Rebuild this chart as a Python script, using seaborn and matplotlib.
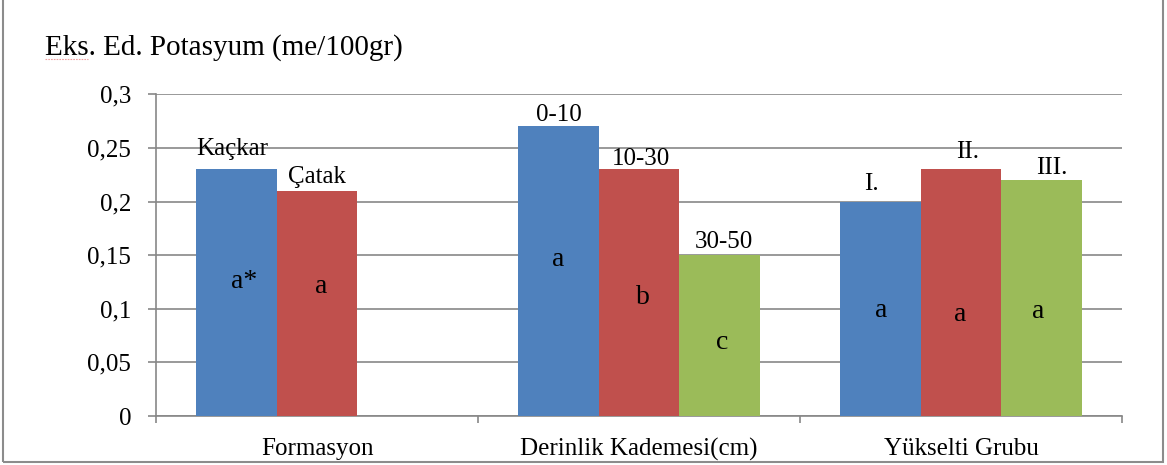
import matplotlib
matplotlib.use("Agg")
import matplotlib.pyplot as plt
from matplotlib.patches import Rectangle
from matplotlib.lines import Line2D
import seaborn as sns
import pandas as pd

# ---- data -------------------------------------------------------------
groups = ["Formasyon", "Derinlik Kademesi(cm)", "Yükselti Grubu"]
group_values = [
    [0.23, 0.21],
    [0.27, 0.23, 0.15],
    [0.20, 0.23, 0.22],
]
bar_names = [
    ["Kaçkar", "Çatak"],
    ["0-10", "10-30", "30-50"],
    ["I.", "II.", "III."],
]
significance = [
    ["a*", "a"],
    ["a", "b", "c"],
    ["a", "a", "a"],
]
y_ticks = [0, 0.05, 0.1, 0.15, 0.2, 0.25, 0.3]
y_tick_labels = ["0", "0,05", "0,1", "0,15", "0,2", "0,25", "0,3"]
y_title = "Eks. Ed. Potasyum (me/100gr)"

# ---- styling / layout ---------------------------------------------------
colors = ["#4F81BD", "#C0504D", "#9BBB59"]
grey = "#878787"
# pixel offsets of the name labels relative to the top centre of each bar
name_shift = [[(-4, 14), (0, 8)],
              [(0, 5), (2, 4), (4, 7)],
              [(-9, 12), (7, 11), (10, 6)]]
# baseline height (data units) and horizontal pixel shift of the letters
letter_y = [[0.1194, 0.115],
            [0.140, 0.1045, 0.0625],
            [0.0926, 0.0889, 0.0914]]
letter_dx = [[8, 4], [0, 4, 3], [1, -1, -3]]

sns.set_style("white")
plt.rcParams["font.family"] = ["Liberation Serif", "DejaVu Serif"]
plt.rcParams["text.color"] = "black"
plt.rcParams["xtick.labelcolor"] = "black"
plt.rcParams["ytick.labelcolor"] = "black"

rows = []
for g, vals in zip(groups, group_values):
    for lvl, v in enumerate(vals):
        rows.append({"group": g, "level": str(lvl + 1), "value": v})
df = pd.DataFrame(rows)

fig = plt.figure(figsize=(11.67, 4.65), dpi=100)
ax = fig.add_axes([156 / 1167, 1 - 416 / 465, (1122 - 156) / 1167, (416 - 94.3) / 465])

sns.barplot(data=df, x="group", y="value", hue="level", order=groups,
            hue_order=["1", "2", "3"], palette=colors, width=0.75,
            gap=0, saturation=1, edgecolor="none", linewidth=0,
            legend=False, ax=ax, zorder=3)

ax.set_xlim(-0.5, 2.5)
ax.set_ylim(0, 0.3)
ax.set_yticks(y_ticks)
ax.set_yticklabels(y_tick_labels, fontsize=18)
ax.set_xticks(range(len(groups)))
ax.set_xticklabels(groups, fontsize=18)
ax.set_xticks([-0.5, 0.5, 1.5, 2.5], minor=True)
ax.set_xlabel("")
ax.set_ylabel("")

ax.tick_params(axis="y", direction="out", length=6, width=1.2, color=grey, pad=12, left=True)
ax.tick_params(axis="x", which="major", length=0, pad=16)
ax.tick_params(axis="x", which="minor", direction="out", length=5, width=1.2, color=grey, bottom=True)

ax.yaxis.grid(True, color=grey, linewidth=1.2, zorder=0)
ax.set_axisbelow(True)
for side in ("top", "right"):
    ax.spines[side].set_visible(False)
for side in ("left", "bottom"):
    ax.spines[side].set_color(grey)
    ax.spines[side].set_linewidth(1.2)

# bar labels: series names above, significance letters inside
for lvl, container in enumerate(ax.containers):
    for bar in container:
        if bar.get_height() != bar.get_height():
            continue
        cx = bar.get_x() + bar.get_width() / 2
        gi = int(round(cx))
        if lvl >= len(group_values[gi]):
            continue
        top = bar.get_height()
        dx, dy = name_shift[gi][lvl]
        ax.annotate(bar_names[gi][lvl], xy=(cx, top), xytext=(dx, dy),
                    textcoords="offset pixels", ha="center", va="baseline",
                    fontsize=18, color="black", zorder=5)
        ax.annotate(significance[gi][lvl], xy=(cx, letter_y[gi][lvl]),
                    xytext=(letter_dx[gi][lvl], 0), textcoords="offset pixels",
                    ha="center", va="baseline", fontsize=20, color="black", zorder=5)

# axis title above the plot area
fig.text(45 / 1167, 1 - 55 / 465, y_title, ha="left", va="baseline",
         fontsize=21, color="black")
fig.add_artist(Line2D([45 / 1167, 88 / 1167], [1 - 59 / 465] * 2,
                      color="#f0a0a0", linewidth=0.8, linestyle=(0, (1.5, 1))))

# chart frame
fig.add_artist(Rectangle((3 / 1167, 3 / 465), 1160 / 1167, 1.2,
                         fill=False, edgecolor="#8c8c8c", linewidth=1.5))

fig.savefig("out.png", dpi=100)
